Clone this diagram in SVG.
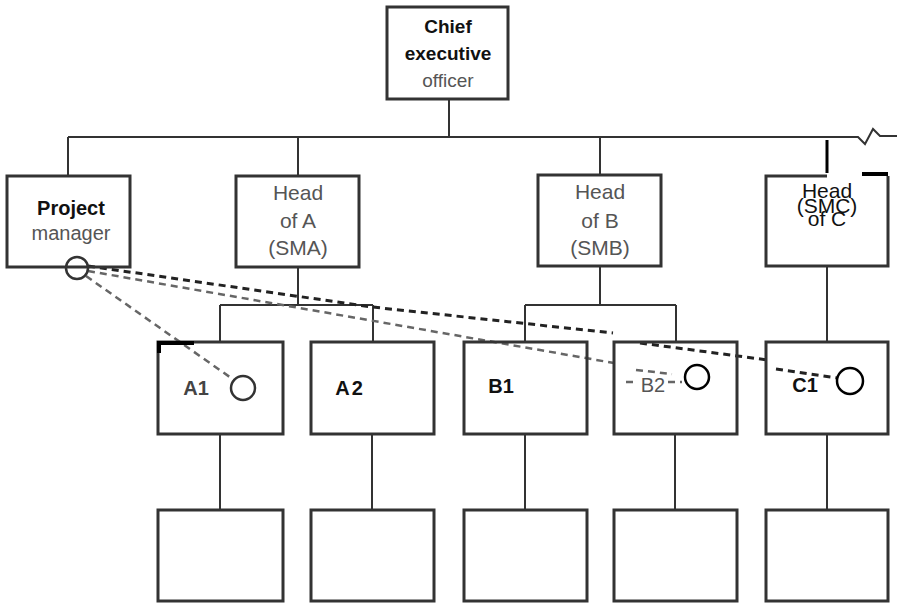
<svg xmlns="http://www.w3.org/2000/svg" width="897" height="604" viewBox="0 0 897 604">
<style>
.box{fill:none;stroke:#333;stroke-width:3}
.ln{fill:none;stroke:#333;stroke-width:2}
.circ{fill:none;stroke:#333;stroke-width:2.5}
.t{font-family:"Liberation Sans",Arial,sans-serif;font-size:20px;text-anchor:middle;fill:#555}
.h{font-size:21px}
.c{font-size:19px}
.b{font-weight:bold;fill:#111}
.d1{fill:none;stroke:#222;stroke-width:3;stroke-dasharray:7 5}
.d2{fill:none;stroke:#666;stroke-width:2.5;stroke-dasharray:7 5}
</style>
<rect width="897" height="604" fill="#fff"/>
<g id="connectors">
<path class="ln" d="M449 99V137M68 137H858L865 144L873 129L880 136H897"/>
<path class="ln" d="M68 137V176M298 137V176M600 137V175"/>
<path class="ln" d="M827 140V173" style="stroke:#000;stroke-width:3"/>
<path class="ln" d="M298 267V305M220 305H373M220 305V342M373 305V342"/>
<path class="ln" d="M600 266V305M525 305H676M525 305V342M676 305V342"/>
<path class="ln" d="M827 266V342"/>
<path class="ln" d="M220 434V510M372 434V510M525 434V510M675 434V510M827 434V510"/>
<path class="d1" d="M88 266L372 307L613 333"/>
<path class="d1" d="M640 343L768 360M776 369L837 378"/>
<path class="d2" d="M88 271L614 363M626 382H634M668 382H682M636 370L672 374"/>
<path class="d2" d="M86 276L234 380"/>
</g>
<g id="ceo"><rect class="box" x="387" y="7" width="121" height="92"/>
<text class="t c b" x="448" y="33">Chief</text><text class="t c b" x="448" y="60">executive</text><text class="t c" x="448" y="87">officer</text></g>
<g id="pm"><rect class="box" x="7" y="176" width="123" height="91"/>
<text class="t b" x="71" y="215">Project</text><text class="t" x="71" y="240">manager</text>
<circle class="circ" cx="77" cy="268" r="11"/></g>
<g id="headA"><rect class="box" x="236" y="176" width="123" height="91"/>
<text class="t h" x="298" y="200">Head</text><text class="t h" x="298" y="228">of A</text><text class="t h" x="298" y="255">(SMA)</text></g>
<g id="headB"><rect class="box" x="538" y="175" width="123" height="91"/>
<text class="t h" x="600" y="199">Head</text><text class="t h" x="600" y="228">of B</text><text class="t h" x="600" y="255">(SMB)</text></g>
<g id="headC"><path class="ln" d="M827 176H766V266H888V176" style="stroke-width:3"/>
<path d="M862 174H888" stroke="#000" stroke-width="4"/>
<text class="t h" x="827" y="198" style="fill:#111">Head</text><text class="t h" x="827" y="213" style="fill:#111">(SMC)</text><text class="t h" x="827" y="226" style="fill:#111">of C</text></g>
<g id="a1"><rect class="box" x="158" y="342" width="125" height="92"/>
<path d="M159 353V343H194" fill="none" stroke="#000" stroke-width="4"/>
<text class="t b" x="196" y="395" style="fill:#444">A1</text><circle class="circ" cx="243" cy="388" r="12"/></g>
<g id="a2"><rect class="box" x="311" y="342" width="123" height="92"/>
<text class="t b" x="350" y="395" style="letter-spacing:2px">A2</text></g>
<g id="b1"><rect class="box" x="464" y="342" width="123" height="92"/>
<text class="t b" x="501" y="393">B1</text></g>
<g id="b2"><rect class="box" x="614" y="342" width="123" height="92"/>
<text class="t" x="653" y="392">B2</text><circle class="circ" cx="697" cy="377" r="12" style="stroke:#000"/></g>
<g id="c1"><rect class="box" x="766" y="342" width="122" height="92"/>
<text class="t b" x="805" y="392">C1</text><circle class="circ" cx="850" cy="381" r="13" style="stroke:#000"/></g>
<g id="bottom">
<rect class="box" x="158" y="510" width="125" height="91"/>
<rect class="box" x="311" y="510" width="123" height="91"/>
<rect class="box" x="464" y="510" width="123" height="91"/>
<rect class="box" x="614" y="510" width="123" height="91"/>
<rect class="box" x="766" y="510" width="122" height="91"/>
</g>
</svg>
